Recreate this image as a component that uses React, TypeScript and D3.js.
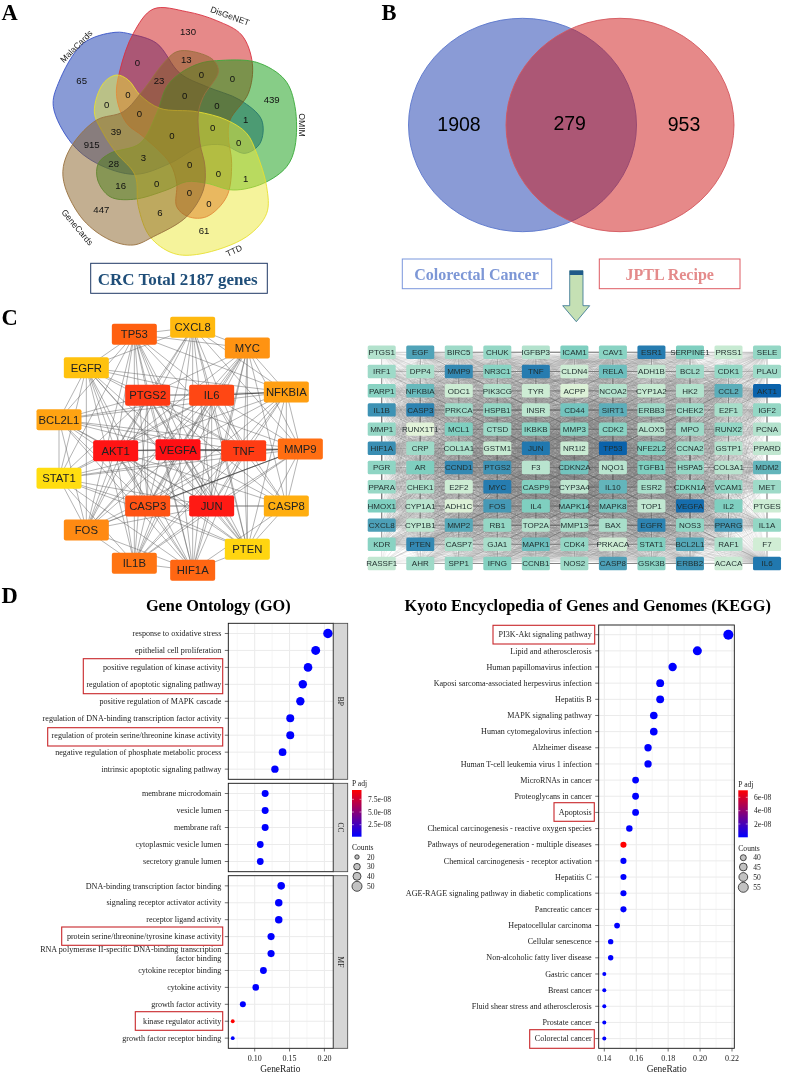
import * as d3 from "d3";

const W = 789;
const H = 1074;
const SERIF = "'Liberation Serif', serif";
const SANS = "'Liberation Sans', sans-serif";

// Panel A: five set venn, outlines traced on a 3x grid
const vennSets = ["MalaCards", "DisGeNET", "OMIM", "TTD", "GeneCards"];
const vennColors = ["#1337ad", "#cd1313", "#0f9b0f", "#ebe737", "#875f23"];
const vennStrokes = ["#3a55c8", "#d93040", "#3aaa3a", "#e8e030", "#9a7240"];
const vennOutlines: [number, number][][] = [
  [[345, 97], [395, 103], [470, 130], [540, 220], [620, 260], [720, 300], [785, 360], [780, 430], [735, 460], [670, 435], [600, 440], [510, 490], [405, 523], [290, 490], [215, 430], [160, 320], [175, 250], [250, 130]],
  [[460, 27], [560, 35], [650, 62], [725, 105], [757, 190], [745, 280], [690, 360], [685, 410], [695, 490], [680, 590], [620, 650], [565, 650], [530, 620], [530, 550], [510, 490], [430, 410], [380, 370], [350, 290], [360, 210], [400, 100]],
  [[650, 182], [770, 187], [855, 240], [885, 320], [885, 440], [860, 500], [790, 550], [700, 570], [620, 550], [560, 545], [500, 570], [400, 598], [330, 590], [293, 540], [295, 490], [330, 460], [420, 430], [470, 340], [500, 260], [540, 220], [600, 190]],
  [[800, 560], [800, 640], [740, 710], [600, 762], [520, 760], [450, 710], [415, 620], [405, 525], [350, 460], [310, 400], [283, 335], [310, 250], [350, 225], [385, 240], [420, 285], [480, 325], [590, 335], [680, 360], [740, 400], [770, 460]],
  [[190, 500], [195, 560], [250, 660], [330, 720], [400, 735], [460, 710], [560, 650], [610, 570], [615, 500], [600, 430], [595, 340], [610, 290], [655, 215], [640, 180], [580, 155], [530, 155], [490, 190], [430, 270], [370, 335], [290, 360], [220, 430]],
];
const vennCounts = [65, 130, 439, 61, 447, 0, 13, 23, 0, 0, 0, 0, 0, 0, 1, 0, 39, 0, 0, 0, 915, 3, 28, 0, 0, 1, 16, 0, 0, 0, 6];
const vennCountSpots: [number, number][] = [[245, 243], [564, 96], [815, 299], [612, 692], [304, 628], [412, 189], [559, 180], [477, 243], [604, 225], [697, 235], [384, 285], [320, 315], [554, 288], [651, 316], [737, 360], [418, 342], [348, 396], [516, 408], [638, 384], [716, 428], [275, 433], [430, 472], [341, 491], [569, 495], [655, 520], [737, 535], [362, 558], [470, 552], [568, 577], [627, 610], [480, 638]];
const vennNameSpots: [number, number, number][] = [[229, 139, -45], [690, 48, 20], [905, 375, 90], [702, 752, -25], [232, 682, 50]];

// Panel B
const overlapCounts = [1908, 279, 953];

// Panel C left: top 20 hub network
const hubGenes = ["TP53", "CXCL8", "MYC", "EGFR", "PTGS2", "IL6", "NFKBIA", "BCL2L1", "AKT1", "VEGFA", "TNF", "MMP9", "STAT1", "CASP3", "JUN", "CASP8", "FOS", "PTEN", "IL1B", "HIF1A"];
const hubColors = ["#ff6010", "#ffb90f", "#ff9312", "#ffc20e", "#ff3a14", "#ff4714", "#ff9f12", "#ffa312", "#ff1414", "#ff1014", "#ff3c14", "#ff6e12", "#ffdd10", "#ff5314", "#ff1a14", "#ffae10", "#ff8a12", "#ffd510", "#ff7412", "#ff6612"];
const hubSpots: [number, number][] = [[403, 103], [578, 82], [742, 144], [259, 203], [443, 286], [635, 286], [859, 276], [177, 359], [347, 452], [534, 449], [731, 452], [901, 447], [177, 535], [443, 618], [635, 618], [859, 618], [259, 690], [742, 748], [403, 790], [578, 811]];
const hubMissing = ["CXCL8-BCL2L1", "CXCL8-STAT1", "CXCL8-CASP8", "MYC-STAT1", "MYC-BCL2L1", "MYC-EGFR", "EGFR-MMP9", "EGFR-CASP8", "NFKBIA-STAT1", "NFKBIA-FOS", "BCL2L1-CASP8", "BCL2L1-IL1B", "STAT1-CASP8", "FOS-CASP8", "FOS-PTEN", "PTEN-IL1B", "CASP8-IL1B", "CASP8-TP53", "MMP9-TP53", "MMP9-HIF1A", "CXCL8-IL1B", "HIF1A-NFKBIA"];
const hubStrong = ["AKT1-VEGFA", "VEGFA-TNF", "MMP9-CASP3", "IL6-NFKBIA", "TNF-MMP9"];

// Panel C right: 279 overlap genes laid out as a grid, score = shade
const gridRows = [
  ["PTGS1", "EGF", "BIRC5", "CHUK", "IGFBP3", "ICAM1", "CAV1", "ESR1", "SERPINE1", "PRSS1", "SELE"],
  ["IRF1", "DPP4", "MMP9", "NR3C1", "TNF", "CLDN4", "RELA", "ADH1B", "BCL2", "CDK1", "PLAU"],
  ["PARP1", "NFKBIA", "ODC1", "PIK3CG", "TYR", "ACPP", "NCOA2", "CYP1A2", "HK2", "CCL2", "AKT1"],
  ["IL1B", "CASP3", "PRKCA", "HSPB1", "INSR", "CD44", "SIRT1", "ERBB3", "CHEK2", "E2F1", "IGF2"],
  ["MMP1", "RUNX1T1", "MCL1", "CTSD", "IKBKB", "MMP3", "CDK2", "ALOX5", "MPO", "RUNX2", "PCNA"],
  ["HIF1A", "CRP", "COL1A1", "GSTM1", "JUN", "NR1I2", "TP53", "NFE2L2", "CCNA2", "GSTP1", "PPARD"],
  ["PGR", "AR", "CCND1", "PTGS2", "F3", "CDKN2A", "NQO1", "TGFB1", "HSPA5", "COL3A1", "MDM2"],
  ["PPARA", "CHEK1", "E2F2", "MYC", "CASP9", "CYP3A4", "IL10", "ESR2", "CDKN1A", "VCAM1", "MET"],
  ["HMOX1", "CYP1A1", "ADH1C", "FOS", "IL4", "MAPK14", "MAPK8", "TOP1", "VEGFA", "IL2", "PTGES"],
  ["CXCL8", "CYP1B1", "MMP2", "RB1", "TOP2A", "MMP13", "BAX", "EGFR", "NOS3", "PPARG", "IL1A"],
  ["KDR", "PTEN", "CASP7", "GJA1", "MAPK1", "CDK4", "PRKACA", "STAT1", "BCL2L1", "RAF1", "F7"],
  ["RASSF1", "AHR", "SPP1", "IFNG", "CCNB1", "NOS2", "CASP8", "GSK3B", "ERBB2", "ACACA", "IL6"],
];
const gridScores = [
  [25, 70, 35, 40, 25, 50, 45, 88, 50, 15, 40],
  [35, 30, 82, 45, 88, 12, 58, 18, 35, 40, 35],
  [45, 60, 12, 25, 12, 5, 25, 15, 25, 65, 100],
  [78, 85, 35, 40, 20, 55, 65, 35, 35, 30, 40],
  [40, 2, 50, 35, 45, 45, 45, 22, 35, 40, 25],
  [80, 35, 28, 15, 90, 14, 100, 48, 35, 25, 18],
  [42, 50, 82, 78, 22, 55, 22, 50, 40, 22, 62],
  [38, 28, 12, 88, 48, 20, 62, 30, 45, 42, 35],
  [50, 22, 5, 75, 50, 52, 55, 18, 95, 50, 12],
  [72, 20, 68, 40, 25, 30, 30, 85, 42, 75, 40],
  [45, 82, 30, 30, 58, 40, 12, 50, 68, 28, 10],
  [18, 35, 40, 48, 42, 35, 72, 45, 78, 14, 90],
];

// Panel D: GO
const goBpTerms = ["response to oxidative stress", "epithelial cell proliferation", "positive regulation of kinase activity", "regulation of apoptotic signaling pathway", "positive regulation of MAPK cascade", "regulation of DNA-binding transcription factor activity", "regulation of protein serine/threonine kinase activity", "negative regulation of phosphate metabolic process", "intrinsic apoptotic signaling pathway"];
const goBpRatio = [0.205, 0.1875, 0.1765, 0.169, 0.1655, 0.151, 0.151, 0.14, 0.129];
const goBpCounts = [57, 52, 49, 47, 46, 42, 42, 39, 36];
const goCcTerms = ["membrane microdomain", "vesicle lumen", "membrane raft", "cytoplasmic vesicle lumen", "secretory granule lumen"];
const goCcRatio = [0.115, 0.115, 0.115, 0.108, 0.108];
const goCcCounts = [32, 32, 32, 30, 30];
const goMfTerms = ["DNA-binding transcription factor binding", "signaling receptor activator activity", "receptor ligand activity", "protein serine/threonine/tyrosine kinase activity", "RNA polymerase II-specific DNA-binding transcription|factor binding", "cytokine receptor binding", "cytokine activity", "growth factor activity", "kinase regulator activity", "growth factor receptor binding"];
const goMfRatio = [0.138, 0.1345, 0.1345, 0.1235, 0.1235, 0.1125, 0.1015, 0.083, 0.0685, 0.0685];
const goMfCounts = [38, 37, 37, 34, 34, 31, 28, 23, 19, 19];
const goMfPadj = [0, 0, 0, 0, 0, 0, 0, 0, 9.5e-8, 0];
const goTicks = [0.1, 0.15, 0.2];
const goPadjTicks = ["7.5e-08", "5.0e-08", "2.5e-08"];
const goCountTicks = [20, 30, 40, 50];

// Panel D: KEGG
const keggTerms = ["PI3K-Akt signaling pathway", "Lipid and atherosclerosis", "Human papillomavirus infection", "Kaposi sarcoma-associated herpesvirus infection", "Hepatitis B", "MAPK signaling pathway", "Human cytomegalovirus infection", "Alzheimer disease", "Human T-cell leukemia virus 1 infection", "MicroRNAs in cancer", "Proteoglycans in cancer", "Apoptosis", "Chemical carcinogenesis - reactive oxygen species", "Pathways of neurodegeneration - multiple diseases", "Chemical carcinogenesis - receptor activation", "Hepatitis C", "AGE-RAGE signaling pathway in diabetic complications", "Pancreatic cancer", "Hepatocellular carcinoma", "Cellular senescence", "Non-alcoholic fatty liver disease", "Gastric cancer", "Breast cancer", "Fluid shear stress and atherosclerosis", "Prostate cancer", "Colorectal cancer"];
const keggRatio = [0.2177, 0.1983, 0.1828, 0.175, 0.175, 0.171, 0.171, 0.1674, 0.1674, 0.1596, 0.1596, 0.1596, 0.1557, 0.152, 0.152, 0.152, 0.152, 0.152, 0.148, 0.144, 0.144, 0.14, 0.14, 0.14, 0.14, 0.14];
const keggCounts = [61, 55, 51, 49, 49, 48, 48, 47, 47, 45, 45, 45, 44, 43, 43, 43, 43, 43, 42, 41, 41, 39, 39, 39, 39, 39];
const keggPadj = [0, 0, 0, 0, 0, 0, 0, 0, 0, 0, 0, 0, 0, 7.5e-8, 0, 0, 0, 0, 0, 0, 0, 0, 0, 0, 0, 0];
const keggTicks = [0.14, 0.16, 0.18, 0.2, 0.22];
const keggPadjTicks = ["6e-08", "4e-08", "2e-08"];
const keggCountTicks = [40, 45, 50, 55];

const v = d3.scaleLinear().domain([0, 1020]).range([0, 340]);
const vennLine = d3
  .line<[number, number]>()
  .x((d) => v(d[0]))
  .y((d) => v(d[1]))
  .curve(d3.curveCatmullRomClosed.alpha(0.5));

const hubX = (d: number) => d / 3;
const hubY = (d: number) => 300 + d / 3;

const gridX = d3.scaleBand<number>().domain(d3.range(11)).range([362.45, 786.3]).paddingInner(0);
const gridY = d3.scaleBand<number>().domain(d3.range(12)).range([342.7, 573.1]);
const gridColor = d3.scaleLinear<string>().domain([0, 50, 100]).range(["#e6f5da", "#7fcfc0", "#0a62ab"]);

const flatGrid = gridScores.flatMap((row, r) => row.map((s, c) => ({ s, x: gridX(c)! + gridX.bandwidth() / 2, y: gridY(r)! + gridY.bandwidth() / 2 })));
const gridLinks: { a: (typeof flatGrid)[number]; b: (typeof flatGrid)[number] }[] = [];
flatGrid.forEach((a, i) => {
  flatGrid.slice(i + 1).forEach((b) => {
    if (a.s * b.s >= 1100) gridLinks.push({ a, b });
  });
});

const padjColor = d3.scaleLinear<string>().domain([0, 7.5e-8]).range(["#0000ff", "#ff0000"]).clamp(true);
const goRadius = d3.scaleLinear().domain([19, 23, 36, 57]).range([1.9, 3, 3.7, 4.7]);
const keggRadius = d3.scaleLinear().domain([39, 41, 45, 51, 61]).range([2, 2.7, 3.4, 4.2, 5]);

const goX = d3.scaleLinear().domain([0.1, 0.2]).range([254.7, 324.4]);
const keggX = d3.scaleLinear().domain([0.14, 0.22]).range([604.3, 732]);

function FacetPanel(props: {
  terms: string[];
  ratio: number[];
  counts: number[];
  padj?: number[];
  x: d3.ScaleLinear<number, number>;
  ticks: number[];
  x0: number;
  x1: number;
  top: number;
  bottom: number;
  radius: (c: number) => number;
}) {
  const { terms, ratio, counts, padj, x, ticks, x0, x1, top, bottom, radius } = props;
  const y = d3.scalePoint<number>().domain(d3.range(terms.length)).range([top, bottom]).padding(0.6);
  const minor = d3.range(ticks.length + 1).map((i) => (i === 0 ? ticks[0] - (ticks[1] - ticks[0]) / 2 : ticks[i - 1] + (ticks[1] - ticks[0]) / 2));
  return (
    <g>
      {minor.filter((t) => x(t) > x0 && x(t) < x1).map((t) => (
        <line key={t} x1={x(t)} x2={x(t)} y1={top} y2={bottom} stroke="#f0f0f0" strokeWidth={0.6} />
      ))}
      {ticks.map((t) => (
        <line key={t} x1={x(t)} x2={x(t)} y1={top} y2={bottom} stroke="#ebebeb" strokeWidth={1} />
      ))}
      {terms.map((_, i) => (
        <line key={i} x1={x0} x2={x1} y1={y(i)} y2={y(i)} stroke="#ebebeb" strokeWidth={1} />
      ))}
      {terms.map((t, i) => {
        const lines = t.split("|");
        return (
          <g key={t}>
            <line x1={x0 - 3.5} x2={x0} y1={y(i)} y2={y(i)} stroke="#333" strokeWidth={0.7} />
            {lines.map((l, k) => (
              <text key={k} x={x0 - 7} y={y(i)! + (k - (lines.length - 1) / 2) * 8.6} dy="0.33em" textAnchor="end" fontFamily={SERIF} fontSize={8.1} fill="#222">
                {l}
              </text>
            ))}
          </g>
        );
      })}
      {terms.map((t, i) => (
        <circle key={t} cx={x(ratio[i])} cy={y(i)} r={radius(counts[i])} fill={padjColor(padj ? padj[i] : 0)} />
      ))}
      <rect x={x0} y={top} width={x1 - x0} height={bottom - top} fill="none" stroke="#111" strokeWidth={0.9} />
    </g>
  );
}

function Strip(props: { label: string; x: number; top: number; bottom: number }) {
  const { label, x, top, bottom } = props;
  const cy = (top + bottom) / 2;
  return (
    <g>
      <rect x={x} y={top} width={14.4} height={bottom - top} fill="#d6d6d6" stroke="#444" strokeWidth={0.8} />
      <text transform={`translate(${x + 7.2},${cy}) rotate(90)`} textAnchor="middle" dy="0.33em" fontFamily={SERIF} fontSize={7.5} fill="#222">
        {label}
      </text>
    </g>
  );
}

function XAxis(props: { x: d3.ScaleLinear<number, number>; ticks: number[]; y: number; title: string; titleX: number }) {
  const { x, ticks, y, title, titleX } = props;
  return (
    <g>
      {ticks.map((t) => (
        <g key={t}>
          <line x1={x(t)} x2={x(t)} y1={y} y2={y + 3.2} stroke="#333" strokeWidth={0.7} />
          <text x={x(t)} y={y + 13} textAnchor="middle" fontFamily={SERIF} fontSize={8} fill="#222">
            {d3.format(".2f")(t)}
          </text>
        </g>
      ))}
      <text x={titleX} y={y + 24} textAnchor="middle" fontFamily={SERIF} fontSize={9.4} fill="#222">
        {title}
      </text>
    </g>
  );
}

function Legend(props: {
  id: string;
  x: number;
  barTop: number;
  barBottom: number;
  padjTicks: string[];
  padjY: number[];
  labelX: number;
  counts: number[];
  countY: number[];
  radius: (c: number) => number;
}) {
  const { id, x, barTop, barBottom, padjTicks, padjY, labelX, counts, countY, radius } = props;
  return (
    <g fontFamily={SERIF} fontSize={7.6} fill="#222">
      <text x={x} y={barTop - 3.6}>P adj</text>
      <defs>
        <linearGradient id={id} x1="0" x2="0" y1="0" y2="1">
          <stop offset="0" stopColor="#ff0000" />
          <stop offset="1" stopColor="#0000ff" />
        </linearGradient>
      </defs>
      <rect x={x} y={barTop} width={9.5} height={barBottom - barTop} fill={`url(#${id})`} />
      {padjY.map((t) => (
        <g key={t}>
          <line x1={x} x2={x + 2} y1={t} y2={t} stroke="#fff" strokeWidth={0.5} />
          <line x1={x + 7.5} x2={x + 9.5} y1={t} y2={t} stroke="#fff" strokeWidth={0.5} />
        </g>
      ))}
      {padjTicks.map((t, i) => (
        <text key={t} x={labelX} y={padjY[i]} dy="0.33em">{t}</text>
      ))}
      <text x={x} y={countY[0] - 9.6} dy="0.33em">Counts</text>
      {counts.map((c, i) => (
        <g key={c}>
          <circle cx={x + 5} cy={countY[i]} r={radius(c)} fill="#c2c2c2" stroke="#222" strokeWidth={0.8} />
          <text x={x + 15} y={countY[i]} dy="0.33em">{c}</text>
        </g>
      ))}
    </g>
  );
}

const redBoxes = [
  [83.3, 658.7, 222.7, 693.7],
  [47.7, 727.7, 222.7, 746],
  [61.7, 927, 222.7, 945.3],
  [135.3, 1011.7, 222.7, 1030.3],
  [493, 625.3, 594.7, 644],
  [554, 802.7, 594.3, 821.3],
  [529.7, 1029.7, 594.3, 1048.3],
];

export default function App() {
  const goLegendRadius = d3.scaleLinear().domain([20, 30, 40, 50]).range([2.2, 3.3, 4, 5]);
  const keggLegendRadius = d3.scaleLinear().domain([40, 45, 50, 55]).range([3, 3.9, 4.4, 5]);
  return (
    <svg width={W} height={H} viewBox={`0 0 ${W} ${H}`} style={{ position: "absolute", left: 0, top: 0, background: "#fff" }}>
      <defs>
        {/* the source figure is a soft raster, a slight blur gets the same look */}
        <filter id="soft" x="0" y="0" width={W} height={H} filterUnits="userSpaceOnUse" colorInterpolationFilters="sRGB">
          <feGaussianBlur stdDeviation={0.3} />
        </filter>
      </defs>
      <g filter="url(#soft)">
      <rect width={W} height={H} fill="#fff" />
      {/* panel letters */}
      <g fontFamily={SERIF} fontWeight="bold" fontSize={22.5} fill="#000">
        <text x={1.5} y={20.2}>A</text>
        <text x={381.5} y={20.2}>B</text>
        <text x={1.5} y={325}>C</text>
        <text x={1.5} y={603}>D</text>
      </g>

      {/* A */}
      <g>
        {vennOutlines.map((pts, i) => (
          <path key={vennSets[i]} d={vennLine(pts) ?? ""} fill={vennColors[i]} fillOpacity={0.5} stroke={vennStrokes[i]} strokeWidth={0.9} />
        ))}
        {vennCounts.map((c, i) => (
          <text key={i} x={v(vennCountSpots[i][0])} y={v(vennCountSpots[i][1])} dy="0.35em" textAnchor="middle" fontFamily={SANS} fontSize={9.6} fill="#111">
            {c}
          </text>
        ))}
        {vennSets.map((s, i) => (
          <text key={s} transform={`translate(${v(vennNameSpots[i][0])},${v(vennNameSpots[i][1])}) rotate(${vennNameSpots[i][2]})`} dy="0.35em" textAnchor="middle" fontFamily={SANS} fontSize={8.6} fill="#222">
            {s}
          </text>
        ))}
        <rect x={90.7} y={263.3} width={176.6} height={30} fill="#fff" stroke="#1f3864" strokeWidth={1} />
        <text x={177.7} y={279} dy="0.33em" textAnchor="middle" fontFamily={SERIF} fontWeight="bold" fontSize={17} fill="#1f4e79">
          CRC Total 2187 genes
        </text>
      </g>

      {/* B */}
      <g>
        <ellipse cx={522.5} cy={125} rx={114} ry={106.7} fill="#1537ad" fillOpacity={0.5} stroke="#5a76cc" strokeWidth={0.9} />
        <ellipse cx={620} cy={125} rx={114} ry={106.7} fill="#cd1313" fillOpacity={0.5} stroke="#d4565c" strokeWidth={0.9} />
        {overlapCounts.map((c, i) => (
          <text key={c} x={[459, 569.7, 684][i]} y={[124, 122.7, 124][i]} dy="0.35em" textAnchor="middle" fontFamily={SANS} fontSize={19.5} fill="#000">
            {c}
          </text>
        ))}
        <rect x={402.3} y={259} width={149.4} height={29.7} fill="#fff" stroke="#7b97dd" strokeWidth={1} />
        <text x={476.5} y={274.5} dy="0.33em" textAnchor="middle" fontFamily={SERIF} fontWeight="bold" fontSize={16} fill="#7d97d6">
          Colorectal Cancer
        </text>
        <rect x={599.3} y={259} width={140.7} height={29.7} fill="#fff" stroke="#de5a62" strokeWidth={1} />
        <text x={669.7} y={274.5} dy="0.33em" textAnchor="middle" fontFamily={SERIF} fontWeight="bold" fontSize={16} fill="#e48b8b">
          JPTL Recipe
        </text>
        <path d="M569.7,270.7 L583,270.7 L583,305.7 L589.7,305.7 L576.3,321.7 L562.7,305.7 L569.7,305.7 Z" fill="#c5e0b4" stroke="#2f6f8f" strokeWidth={0.8} />
        <rect x={569.7} y={270.7} width={13.3} height={4.3} fill="#1f5a88" />
      </g>

      {/* C left */}
      <g>
        {hubGenes.flatMap((a, i) =>
          hubGenes.slice(i + 1).map((b, k) => {
            const j = i + 1 + k;
            const key = `${a}-${b}`;
            if (hubMissing.includes(key) || hubMissing.includes(`${b}-${a}`)) return null;
            const strong = hubStrong.includes(key) || hubStrong.includes(`${b}-${a}`);
            return (
              <line key={key} x1={hubX(hubSpots[i][0])} y1={hubY(hubSpots[i][1])} x2={hubX(hubSpots[j][0])} y2={hubY(hubSpots[j][1])} stroke={strong ? "#333" : "#5c5c5c"} strokeWidth={strong ? 0.9 : 0.55} strokeOpacity={strong ? 0.9 : 0.85} />
            );
          })
        )}
        {hubGenes.map((g, i) => (
          <g key={g}>
            <rect x={hubX(hubSpots[i][0]) - 22.5} y={hubY(hubSpots[i][1]) - 10.5} width={45} height={21} rx={2} fill={hubColors[i]} />
            <text x={hubX(hubSpots[i][0])} y={hubY(hubSpots[i][1])} dy="0.35em" textAnchor="middle" fontFamily={SANS} fontSize={11.3} fill="#222">
              {g}
            </text>
          </g>
        ))}
      </g>

      {/* C right */}
      <g>
        {gridLinks.map((l, i) => (
          <line key={i} x1={l.a.x} y1={l.a.y} x2={l.b.x} y2={l.b.y} stroke="#777" strokeWidth={0.25} strokeOpacity={0.35} />
        ))}
        {gridRows.map((row, r) =>
          row.map((g, c) => (
            <g key={g}>
              <rect x={gridX(c)! + gridX.bandwidth() / 2 - 14} y={gridY(r)! + gridY.bandwidth() / 2 - 6.7} width={28} height={13.4} rx={1.5} fill={gridColor(gridScores[r][c])} />
              <text x={gridX(c)! + gridX.bandwidth() / 2} y={gridY(r)! + gridY.bandwidth() / 2} dy="0.35em" textAnchor="middle" fontFamily={SANS} fontSize={8} fill="#1f2d2d">
                {g}
              </text>
            </g>
          ))
        )}
      </g>

      {/* D titles */}
      <g fontFamily={SERIF} fontWeight="bold" fontSize={16.3} fill="#000" textAnchor="middle">
        <text x={218.3} y={610.5}>Gene Ontology (GO)</text>
        <text x={587.7} y={610.5}>Kyoto Encyclopedia of Genes and Genomes (KEGG)</text>
      </g>

      {/* D: GO */}
      <FacetPanel terms={goBpTerms} ratio={goBpRatio} counts={goBpCounts} x={goX} ticks={goTicks} x0={228.3} x1={333.3} top={623.3} bottom={779.3} radius={goRadius} />
      <FacetPanel terms={goCcTerms} ratio={goCcRatio} counts={goCcCounts} x={goX} ticks={goTicks} x0={228.3} x1={333.3} top={783.3} bottom={871.7} radius={goRadius} />
      <FacetPanel terms={goMfTerms} ratio={goMfRatio} counts={goMfCounts} padj={goMfPadj} x={goX} ticks={goTicks} x0={228.3} x1={333.3} top={875.7} bottom={1048.3} radius={goRadius} />
      <Strip label="BP" x={333.3} top={623.3} bottom={779.3} />
      <Strip label="CC" x={333.3} top={783.3} bottom={871.7} />
      <Strip label="MF" x={333.3} top={875.7} bottom={1048.3} />
      <XAxis x={goX} ticks={goTicks} y={1048.3} title="GeneRatio" titleX={280.3} />
      <Legend id="goBar" x={352} barTop={790} barBottom={836.7} padjTicks={goPadjTicks} padjY={[799.3, 812, 824.7]} labelX={368} counts={goCountTicks} countY={[857, 866.7, 876.3, 886.3]} radius={goLegendRadius} />

      {/* D: KEGG */}
      <FacetPanel terms={keggTerms} ratio={keggRatio} counts={keggCounts} padj={keggPadj} x={keggX} ticks={keggTicks} x0={598.7} x1={734.3} top={625} bottom={1048.3} radius={keggRadius} />
      <XAxis x={keggX} ticks={keggTicks} y={1048.3} title="GeneRatio" titleX={666.7} />
      <Legend id="keggBar" x={738.3} barTop={790.3} barBottom={837.3} padjTicks={keggPadjTicks} padjY={[797.3, 810.7, 824]} labelX={754} counts={keggCountTicks} countY={[857.7, 867, 877, 887.3]} radius={keggLegendRadius} />

      {redBoxes.map((b, i) => (
        <rect key={i} x={b[0]} y={b[1]} width={b[2] - b[0]} height={b[3] - b[1]} fill="none" stroke="#c8262a" strokeWidth={1.1} />
      ))}
      </g>
    </svg>
  );
}
